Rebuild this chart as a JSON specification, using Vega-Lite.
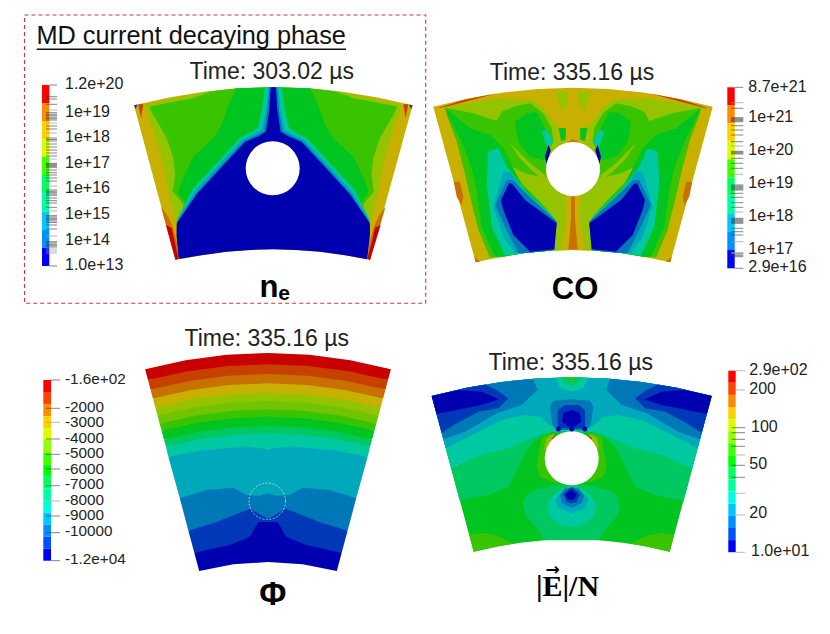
{
"$schema":"https://vega.github.io/schema/vega-lite/v6.json",
"description":"Four plasma field contour panels with colour bars",
"width":830,"height":634,"padding":0,
"autosize":{"type":"fit","contains":"padding"},
"background":"white",
"config":{"view":{"stroke":null}},
"projection":{"type":"identity","scale":1,"translate":[0,0]},
"layer":[
{"data":{"values":[
{"type":"Feature","properties":{"band":"d10"},"geometry":{"type":"Polygon","coordinates":[[[134,105.3],[169,97.4],[204,91.7],[238,88.4],[273.3,87.3],[308.6,88.4],[342.6,91.7],[377.6,97.4],[412.6,105.3],[370,260],[345,255.2],[320,251.8],[296,249.9],[273.3,249.3],[250.6,249.9],[226.6,251.8],[201.6,255.2],[175.5,260],[134,105.3]]]}},
{"type":"Feature","properties":{"band":"d9"},"geometry":{"type":"Polygon","coordinates":[[[220,90],[238,88.4],[273.3,87.3],[308.6,88.4],[326.6,90],[343.6,92.5],[368.6,97.5],[401.6,105],[396.6,121.7],[388.3,145],[381.6,171.7],[377.3,196.7],[374.9,203.3],[371.6,218.3],[369.9,225],[176.7,225],[175,218.3],[171.7,203.3],[169.3,196.7],[165,171.7],[158.3,145],[150,121.7],[145,105],[178,97.5],[203,92.5],[220,90]]]}},
{"type":"Feature","properties":{"band":"d7"},"geometry":{"type":"Polygon","coordinates":[[[236.7,88.3],[273.3,87.3],[309.9,88.3],[336.6,91.7],[353.3,98.3],[373.3,101.7],[397.3,106.7],[393.3,115],[379.9,138.3],[373.3,158.3],[371.6,175],[373.9,191.7],[366.6,200],[363.3,205],[366.6,218.3],[180,218.3],[183.3,205],[180,200],[172.7,191.7],[175,175],[173.3,158.3],[166.7,138.3],[153.3,115],[149.3,106.7],[173.3,101.7],[193.3,98.3],[210,91.7],[236.7,88.3]]]}},
{"type":"Feature","properties":{"band":"d6"},"geometry":{"type":"Polygon","coordinates":[[[236.7,88.3],[273.3,87.3],[309.9,88.3],[318.3,105],[324.9,125],[333.3,138.3],[353.3,156.7],[366.6,185],[368.3,193.3],[361.6,201.7],[361.6,208.3],[368.3,221.7],[178.3,221.7],[185,208.3],[185,201.7],[178.3,193.3],[180,185],[193.3,156.7],[213.3,138.3],[221.7,125],[228.3,105],[236.7,88.3]]]}},
{"type":"Feature","properties":{"band":"d4"},"geometry":{"type":"Polygon","coordinates":[[[265,87.6],[262,110],[258,127],[253,131.5],[240.5,137.5],[217.5,162.3],[192.5,189.5],[177.3,219],[369.3,219],[354.1,189.5],[329.1,162.3],[306.1,137.5],[293.6,131.5],[288.6,127],[284.6,110],[281.6,87.6],[265,87.6]]]}},
{"type":"Feature","properties":{"band":"d3"},"geometry":{"type":"Polygon","coordinates":[[[268.3,87.4],[266,110],[261.7,129.5],[255,133.5],[242.5,139.5],[219.5,164.3],[194.5,191.5],[177,220.5],[369.6,220.5],[352.1,191.5],[327.1,164.3],[304.1,139.5],[291.6,133.5],[284.9,129.5],[280.6,110],[278.3,87.4],[268.3,87.4]]]}},
{"type":"Feature","properties":{"band":"d2"},"geometry":{"type":"Polygon","coordinates":[[[269.5,87.3],[267.6,110],[264,131],[257,135],[244,141],[221,165.7],[196,193],[177,222],[369.6,222],[350.6,193],[325.6,165.7],[302.6,141],[289.6,135],[282.6,131],[279,110],[277.1,87.3],[269.5,87.3]]]}},
{"type":"Feature","properties":{"band":"d0"},"geometry":{"type":"Polygon","coordinates":[[[270.7,87.3],[269.3,110],[266,131.7],[258,136.5],[245,142],[222,166.7],[197,194],[176.7,223.3],[176.5,235],[178.5,259],[201.6,255.2],[226.6,251.8],[250.6,249.9],[273.3,249.3],[296,249.9],[320,251.8],[345,255.2],[367.3,259.2],[369.9,235],[369.9,223.3],[349.6,194],[324.6,166.7],[301.6,142],[288.6,136.5],[280.6,131.7],[277.3,110],[275.9,87.3],[270.7,87.3]]]}},
{"type":"Feature","properties":{"band":"d11"},"geometry":{"type":"Polygon","coordinates":[[[161,206.7],[168.3,216.7],[173,228],[176.7,241.7],[178.5,258.5],[175.5,260],[161,206.7]]]}},
{"type":"Feature","properties":{"band":"d11"},"geometry":{"type":"Polygon","coordinates":[[[385.6,206.7],[378.3,216.7],[373.6,228],[369.9,241.7],[367.3,258.5],[370,260],[385.6,206.7]]]}},
{"type":"Feature","properties":{"band":"d13"},"geometry":{"type":"Polygon","coordinates":[[[166,225],[171.7,228],[175,243.3],[178.5,258.5],[175.5,260],[166,225]]]}},
{"type":"Feature","properties":{"band":"d13"},"geometry":{"type":"Polygon","coordinates":[[[380.6,225],[374.9,228],[371.6,243.3],[367.3,258.5],[370,260],[380.6,225]]]}},
{"type":"Feature","properties":{"band":"d12"},"geometry":{"type":"Polygon","coordinates":[[[138.3,104.3],[143.3,104.3],[141,118.3],[138.3,104.3]]]}},
{"type":"Feature","properties":{"band":"d12"},"geometry":{"type":"Polygon","coordinates":[[[408.3,104.3],[403.3,104.3],[405.6,118.3],[408.3,104.3]]]}},
{"type":"Feature","properties":{"band":"d1"},"geometry":{"type":"Polygon","coordinates":[[[134,105.3],[137.5,104.5],[135.5,109.3],[134,105.3]]]}},
{"type":"Feature","properties":{"band":"d1"},"geometry":{"type":"Polygon","coordinates":[[[412.6,105.3],[409.1,104.5],[411.1,109.3],[412.6,105.3]]]}},

{"type":"Feature","properties":{"band":"d10"},"geometry":{"type":"Polygon","coordinates":[[[433.3,106.7],[468,98.4],[503,92.5],[538,88.9],[573,87.7],[608,88.9],[643,92.5],[678,98.4],[712.7,106.7],[670.3,262.3],[645,256.9],[621,253],[597,250.7],[573,250],[549,250.7],[525,253],[501,256.9],[475.7,262.3],[433.3,106.7]]]}},
{"type":"Feature","properties":{"band":"d9"},"geometry":{"type":"Polygon","coordinates":[[[556.7,140],[558.3,126.7],[553.3,121.7],[543.3,108.3],[533.3,100],[500,98.3],[445,107.3],[453.3,131.7],[461.7,155],[468.3,181.7],[475,205],[481.7,232],[488.3,258.3],[501,256.9],[525,253],[549,250.7],[573,250],[597,250.7],[621,253],[645,256.9],[657.7,258.3],[664.3,232],[671,205],[677.7,181.7],[684.3,155],[692.7,131.7],[701,107.3],[646,98.3],[612.7,100],[602.7,108.3],[592.7,121.7],[587.7,126.7],[589.3,140],[573,145],[556.7,140]]]}},
{"type":"Feature","properties":{"band":"d9"},"geometry":{"type":"Polygon","coordinates":[[[555,91.7],[568.3,91.7],[566.7,105],[561.7,111.7],[558.3,101.7],[555,91.7]]]}},
{"type":"Feature","properties":{"band":"d9"},"geometry":{"type":"Polygon","coordinates":[[[591,91.7],[577.7,91.7],[579.3,105],[584.3,111.7],[587.7,101.7],[591,91.7]]]}},
{"type":"Feature","properties":{"band":"d6"},"geometry":{"type":"Polygon","coordinates":[[[558.5,128],[566,128],[565.5,140],[561,141],[558.5,128]]]}},
{"type":"Feature","properties":{"band":"d6"},"geometry":{"type":"Polygon","coordinates":[[[587.5,128],[580,128],[580.5,140],[585,141],[587.5,128]]]}},
{"type":"Feature","properties":{"band":"d7"},"geometry":{"type":"Polygon","coordinates":[[[445,107.7],[473.3,113.3],[496.7,121],[501.7,111.7],[516.7,105.7],[530,103.3],[543.3,113.3],[551.7,128.3],[553.3,141.7],[545.7,156.7],[546.3,178.3],[525,173.3],[511.7,166.7],[521.7,183.3],[541.7,203.3],[556.7,221.7],[553.3,250],[549,250.7],[525,253],[501,256.9],[490,257.3],[478.3,230],[471,200],[464,170],[456.7,141.7],[446.7,115],[445,107.7]]]}},
{"type":"Feature","properties":{"band":"d7"},"geometry":{"type":"Polygon","coordinates":[[[701,107.7],[672.7,113.3],[649.3,121],[644.3,111.7],[629.3,105.7],[616,103.3],[602.7,113.3],[594.3,128.3],[592.7,141.7],[600.3,156.7],[599.7,178.3],[621,173.3],[634.3,166.7],[624.3,183.3],[604.3,203.3],[589.3,221.7],[592.7,250],[597,250.7],[621,253],[645,256.9],[656,257.3],[667.7,230],[675,200],[682,170],[689.3,141.7],[699.3,115],[701,107.7]]]}},
{"type":"Feature","properties":{"band":"d6"},"geometry":{"type":"Polygon","coordinates":[[[445,108.3],[470,128.3],[490,135],[503.3,148.3],[511.7,165],[521.7,185],[551.7,215],[556.7,223.3],[553.3,250],[549,250.7],[525,253],[501,256.9],[495,256],[481.7,226.7],[476.7,190],[471.7,168.3],[461.7,141.7],[445,108.3]]]}},
{"type":"Feature","properties":{"band":"d6"},"geometry":{"type":"Polygon","coordinates":[[[701,108.3],[676,128.3],[656,135],[642.7,148.3],[634.3,165],[624.3,185],[594.3,215],[589.3,223.3],[592.7,250],[597,250.7],[621,253],[645,256.9],[651,256],[664.3,226.7],[669.3,190],[674.3,168.3],[684.3,141.7],[701,108.3]]]}},
{"type":"Feature","properties":{"band":"d6"},"geometry":{"type":"Polygon","coordinates":[[[515,121.7],[526.7,113.3],[536.7,111.7],[545,128.3],[546.7,151.7],[543.3,160],[530,156.7],[518.3,141.7],[515,121.7]]]}},
{"type":"Feature","properties":{"band":"d6"},"geometry":{"type":"Polygon","coordinates":[[[631,121.7],[619.3,113.3],[609.3,111.7],[601,128.3],[599.3,151.7],[602.7,160],[616,156.7],[627.7,141.7],[631,121.7]]]}},
{"type":"Feature","properties":{"band":"d9"},"geometry":{"type":"Polygon","coordinates":[[[510,143.3],[520,158.3],[533.3,171.7],[546.7,181.7],[545,175],[530,163.3],[510,143.3]]]}},
{"type":"Feature","properties":{"band":"d9"},"geometry":{"type":"Polygon","coordinates":[[[636,143.3],[626,158.3],[612.7,171.7],[599.3,181.7],[601,175],[616,163.3],[636,143.3]]]}},
{"type":"Feature","properties":{"band":"d4"},"geometry":{"type":"Polygon","coordinates":[[[488.3,151.7],[498.3,148.3],[506.7,166.7],[525,190],[553.3,216.7],[555.7,223.3],[553.3,250],[549,250.7],[525,253],[505,255.5],[491.7,226.7],[486.7,183.3],[488.3,151.7]]]}},
{"type":"Feature","properties":{"band":"d4"},"geometry":{"type":"Polygon","coordinates":[[[657.7,151.7],[647.7,148.3],[639.3,166.7],[621,190],[592.7,216.7],[590.3,223.3],[592.7,250],[597,250.7],[621,253],[641,255.5],[654.3,226.7],[659.3,183.3],[657.7,151.7]]]}},
{"type":"Feature","properties":{"band":"d3"},"geometry":{"type":"Polygon","coordinates":[[[493.3,206.7],[503.3,171.7],[510,171.7],[525,193.3],[555,220],[554.3,250],[549,250.7],[525,253],[515,253.5],[503.3,236.7],[493.3,206.7]]]}},
{"type":"Feature","properties":{"band":"d3"},"geometry":{"type":"Polygon","coordinates":[[[652.7,206.7],[642.7,171.7],[636,171.7],[621,193.3],[591,220],[591.7,250],[597,250.7],[621,253],[631,253.5],[642.7,236.7],[652.7,206.7]]]}},
{"type":"Feature","properties":{"band":"d2"},"geometry":{"type":"Polygon","coordinates":[[[495,205],[506.7,180],[512.3,180],[556.7,221.7],[554.3,250],[549,250.7],[525,253],[518.3,253],[505,226.7],[495,205]]]}},
{"type":"Feature","properties":{"band":"d2"},"geometry":{"type":"Polygon","coordinates":[[[651,205],[639.3,180],[633.7,180],[589.3,221.7],[591.7,250],[597,250.7],[621,253],[627.7,253],[641,226.7],[651,205]]]}},
{"type":"Feature","properties":{"band":"d0"},"geometry":{"type":"Polygon","coordinates":[[[501,200],[509,183.3],[512.3,184],[525,200],[556.7,223.3],[554.3,249.3],[530,251.8],[513.3,235],[503.3,210],[501,200]]]}},
{"type":"Feature","properties":{"band":"d0"},"geometry":{"type":"Polygon","coordinates":[[[645,200],[637,183.3],[633.7,184],[621,200],[589.3,223.3],[591.7,249.3],[616,251.8],[632.7,235],[642.7,210],[645,200]]]}},
{"type":"Feature","properties":{"band":"d4"},"geometry":{"type":"Polygon","coordinates":[[[541.7,131.7],[546.7,130],[553.3,141.7],[548.3,148.3],[545,141.7],[541.7,131.7]]]}},
{"type":"Feature","properties":{"band":"d4"},"geometry":{"type":"Polygon","coordinates":[[[604.3,131.7],[599.3,130],[592.7,141.7],[597.7,148.3],[601,141.7],[604.3,131.7]]]}},
{"type":"Feature","properties":{"band":"d0"},"geometry":{"type":"Polygon","coordinates":[[[545,156.7],[548.3,145],[550.7,150],[546.7,165],[545,156.7]]]}},
{"type":"Feature","properties":{"band":"d0"},"geometry":{"type":"Polygon","coordinates":[[[601,156.7],[597.7,145],[595.3,150],[599.3,165],[601,156.7]]]}},
{"type":"Feature","properties":{"band":"d10"},"geometry":{"type":"Polygon","coordinates":[[[565,195],[581,195],[579.7,216.7],[585,250],[561,250],[566.3,216.7],[565,195]]]}},
{"type":"Feature","properties":{"band":"d11"},"geometry":{"type":"Polygon","coordinates":[[[571,196.7],[575,196.7],[575,220],[577.7,249.5],[568.3,249.5],[571,220],[571,196.7]]]}},
{"type":"Feature","properties":{"band":"d11"},"geometry":{"type":"Polygon","coordinates":[[[453.8,181.7],[460,181.7],[463.3,196.7],[461.7,205],[456.7,196.7],[453.8,181.7]]]}},
{"type":"Feature","properties":{"band":"d11"},"geometry":{"type":"Polygon","coordinates":[[[692.2,181.7],[686,181.7],[682.7,196.7],[684.3,205],[689.3,196.7],[692.2,181.7]]]}},
{"type":"Feature","properties":{"band":"d12"},"geometry":{"type":"Polygon","coordinates":[[[439.3,107.7],[463.3,100],[496.7,93.3],[463.3,102.3],[440,108.3],[439.3,107.7]]]}},
{"type":"Feature","properties":{"band":"d12"},"geometry":{"type":"Polygon","coordinates":[[[706.7,107.7],[682.7,100],[649.3,93.3],[682.7,102.3],[706,108.3],[706.7,107.7]]]}},
{"type":"Feature","properties":{"band":"d11"},"geometry":{"type":"Polygon","coordinates":[[[474.3,256.7],[480,261.7],[475.7,262.3],[474.3,256.7]]]}},
{"type":"Feature","properties":{"band":"d11"},"geometry":{"type":"Polygon","coordinates":[[[671.7,256.7],[666,261.7],[670.3,262.3],[671.7,256.7]]]}},
{"type":"Feature","properties":{"band":"d11"},"geometry":{"type":"Polygon","coordinates":[[[566,142.5],[573,139.5],[580,142.5],[566,142.5]]]}},

{"type":"Feature","properties":{"band":"d13"},"geometry":{"type":"Polygon","coordinates":[[[145.1,369.2],[185.5,360.2],[226.6,354.8],[268,353],[309.4,354.8],[350.5,360.2],[390.9,369.2],[388,380.1],[268,365.3],[148,380.1],[145.1,369.2]]]}},
{"type":"Feature","properties":{"band":"d12"},"geometry":{"type":"Polygon","coordinates":[[[148,380.1],[187.5,371.3],[227.6,366.1],[268,364.3],[308.4,366.1],[348.5,371.3],[388,380.1],[385.5,389.5],[268,375],[150.5,389.5],[148,380.1]]]}},
{"type":"Feature","properties":{"band":"d11"},"geometry":{"type":"Polygon","coordinates":[[[150.5,389.5],[189.2,380.9],[228.4,375.7],[268,374],[307.6,375.7],[346.8,380.9],[385.5,389.5],[383.1,398.5],[268,384.3],[152.9,398.5],[150.5,389.5]]]}},
{"type":"Feature","properties":{"band":"d10"},"geometry":{"type":"Polygon","coordinates":[[[152.9,398.5],[190.8,390.1],[229.2,385],[268,383.3],[306.8,385],[345.2,390.1],[383.1,398.5],[380.7,407.5],[268,393.7],[155.3,407.5],[152.9,398.5]]]}},
{"type":"Feature","properties":{"band":"d9"},"geometry":{"type":"Polygon","coordinates":[[[155.3,407.5],[192.4,399.3],[230,394.4],[268,392.7],[306,394.4],[343.6,399.3],[380.7,407.5],[378.5,415.6],[268,402],[157.5,415.6],[155.3,407.5]]]}},
{"type":"Feature","properties":{"band":"d8"},"geometry":{"type":"Polygon","coordinates":[[[157.5,415.6],[193.9,407.5],[230.8,402.6],[268,401],[305.2,402.6],[342.1,407.5],[378.5,415.6],[376.4,423.6],[268,410.3],[159.6,423.6],[157.5,415.6]]]}},
{"type":"Feature","properties":{"band":"d7"},"geometry":{"type":"Polygon","coordinates":[[[159.6,423.6],[195.3,415.7],[231.5,410.9],[268,409.3],[304.5,410.9],[340.7,415.7],[376.4,423.6],[374.4,430.7],[268,417.7],[161.6,430.7],[159.6,423.6]]]}},
{"type":"Feature","properties":{"band":"d6"},"geometry":{"type":"Polygon","coordinates":[[[161.6,430.7],[196.6,422.9],[232.1,418.3],[268,416.7],[303.9,418.3],[339.4,422.9],[374.4,430.7],[372,439.7],[268,427],[164,439.7],[161.6,430.7]]]}},
{"type":"Feature","properties":{"band":"d5"},"geometry":{"type":"Polygon","coordinates":[[[164,439.7],[198.2,432.1],[233,427.5],[268,426],[303,427.5],[337.8,432.1],[372,439.7],[370.1,446.8],[268,434.3],[165.9,446.8],[164,439.7]]]}},
{"type":"Feature","properties":{"band":"d4"},"geometry":{"type":"Polygon","coordinates":[[[165.9,446.8],[199.5,439.3],[233.6,434.8],[268,433.3],[302.4,434.8],[336.5,439.3],[370.1,446.8],[367.7,456.7],[268,452],[168.3,456.7],[165.9,446.8]]]}},
{"type":"Feature","properties":{"band":"d3"},"geometry":{"type":"Polygon","coordinates":[[[168.3,456.7],[203.3,450],[243,446.7],[263,448.3],[268,450],[273,448.3],[293,446.7],[332.7,450],[367.7,456.7],[356.2,498.3],[268,505],[179.8,498.3],[168.3,456.7]]]}},
{"type":"Feature","properties":{"band":"d2"},"geometry":{"type":"Polygon","coordinates":[[[179.8,498.3],[206.7,490],[233.3,487.7],[246.7,495],[260,495.7],[268,493.3],[276,495.7],[289.3,495],[302.7,487.7],[329.3,490],[356.2,498.3],[347.6,530.7],[268,535],[188.4,530.7],[179.8,498.3]]]}},
{"type":"Feature","properties":{"band":"d1"},"geometry":{"type":"Polygon","coordinates":[[[188.4,530.7],[216.7,522],[250,508.7],[268,519],[286,508.7],[319.3,522],[347.6,530.7],[341.7,552.7],[194.3,552.7],[188.4,530.7]]]}},
{"type":"Feature","properties":{"band":"d0"},"geometry":{"type":"Polygon","coordinates":[[[194.3,552.7],[230,545],[250,536.7],[258.3,522],[277.7,522],[286,536.7],[306,545],[341.7,552.7],[336.8,571.1],[302.7,564.3],[268,562],[233.3,564.3],[199.2,571.1],[194.3,552.7]]]}},

{"type":"Feature","properties":{"band":"d6"},"geometry":{"type":"Polygon","coordinates":[[[431.7,396],[466.7,387.8],[501.7,382],[536.7,378.5],[571.7,377.3],[606.7,378.5],[641.7,382],[676.7,387.8],[711.7,396],[669.7,551.7],[645.2,546.3],[620.7,542.4],[596.2,540.1],[571.7,539.3],[547.2,540.1],[522.7,542.4],[498.2,546.3],[473.7,551.7],[431.7,396]]]}},
{"type":"Feature","properties":{"band":"d5"},"geometry":{"type":"Polygon","coordinates":[[[431.7,396],[466.7,387.8],[501.7,382],[536.7,378.5],[571.7,377.3],[606.7,378.5],[641.7,382],[676.7,387.8],[711.7,396],[683.7,500.7],[655.1,495],[635.1,486.7],[626.7,470],[615.1,446.7],[598.4,431.7],[571.7,431],[545,431.7],[528.3,446.7],[516.7,470],[508.3,486.7],[488.3,495],[459.7,500.7],[431.7,396]]]}},
{"type":"Feature","properties":{"band":"d4"},"geometry":{"type":"Polygon","coordinates":[[[431.7,396],[466.7,387.8],[501.7,382],[536.7,378.5],[571.7,377.3],[606.7,378.5],[641.7,382],[676.7,387.8],[711.7,396],[692.2,468.3],[661.7,455],[635.1,448.3],[608.4,436.7],[590.1,431.7],[571.7,431],[553.3,431.7],[535,436.7],[508.3,448.3],[481.7,455],[451.2,468.3],[431.7,396]]]}},
{"type":"Feature","properties":{"band":"d3"},"geometry":{"type":"Polygon","coordinates":[[[431.7,396],[466.7,387.8],[501.7,382],[536.7,378.5],[571.7,377.3],[606.7,378.5],[641.7,382],[676.7,387.8],[711.7,396],[697.6,448.3],[675.1,436.7],[641.7,420],[618.4,415],[603.4,416.7],[590.1,428.3],[571.7,430],[553.3,428.3],[540,416.7],[525,415],[501.7,420],[468.3,436.7],[445.8,448.3],[431.7,396]]]}},
{"type":"Feature","properties":{"band":"d2"},"geometry":{"type":"Polygon","coordinates":[[[431.7,396],[466.7,387.8],[501.7,382],[533.3,378.8],[537.3,390],[521.7,405],[496.7,413.3],[465,431.7],[443.4,439.3],[431.7,396]]]}},
{"type":"Feature","properties":{"band":"d2"},"geometry":{"type":"Polygon","coordinates":[[[711.7,396],[676.7,387.8],[641.7,382],[610.1,378.8],[606.1,390],[621.7,405],[646.7,413.3],[678.4,431.7],[700,439.3],[711.7,396]]]}},
{"type":"Feature","properties":{"band":"d1"},"geometry":{"type":"Polygon","coordinates":[[[431.7,396],[466.7,387.8],[485,384.5],[496.7,390],[508.3,398.3],[498.3,408.3],[478.3,411.7],[456.7,423.3],[441.6,432.7],[431.7,396]]]}},
{"type":"Feature","properties":{"band":"d1"},"geometry":{"type":"Polygon","coordinates":[[[711.7,396],[676.7,387.8],[658.4,384.5],[646.7,390],[635.1,398.3],[645.1,408.3],[665.1,411.7],[686.7,423.3],[701.8,432.7],[711.7,396]]]}},
{"type":"Feature","properties":{"band":"d0"},"geometry":{"type":"Polygon","coordinates":[[[431.7,396],[458.3,390],[481.7,391.7],[499,399.3],[481.7,405],[456.7,410],[436.6,414],[431.7,396]]]}},
{"type":"Feature","properties":{"band":"d0"},"geometry":{"type":"Polygon","coordinates":[[[711.7,396],[685.1,390],[661.7,391.7],[644.4,399.3],[661.7,405],[686.7,410],[706.8,414],[711.7,396]]]}},
{"type":"Feature","properties":{"band":"d4"},"geometry":{"type":"Polygon","coordinates":[[[555.7,378.3],[560,388.3],[571.7,391.7],[583.4,388.3],[587.7,378.3],[571.7,377.3],[555.7,378.3]]]}},
{"type":"Feature","properties":{"band":"d5"},"geometry":{"type":"Polygon","coordinates":[[[561,377.7],[565,383.3],[571.7,385.7],[578.4,383.3],[582.4,377.7],[571.7,377.3],[561,377.7]]]}},
{"type":"Feature","properties":{"band":"d7"},"geometry":{"type":"Polygon","coordinates":[[[566.7,377.5],[571.7,380.7],[576.7,377.5],[566.7,377.5]]]}},
{"type":"Feature","properties":{"band":"d2"},"geometry":{"type":"Polygon","coordinates":[[[550,406.7],[553.3,400.7],[571.7,399.3],[590,400.7],[593.3,406.7],[591,425],[585,430],[558.3,430],[552.3,425],[550,406.7]]]}},
{"type":"Feature","properties":{"band":"d1"},"geometry":{"type":"Polygon","coordinates":[[[557.7,428.3],[557.7,410],[565,405],[578.4,405],[585,410],[585,428.3],[557.7,428.3]]]}},
{"type":"Feature","properties":{"band":"d0"},"geometry":{"type":"Polygon","coordinates":[[[562.3,421.7],[563.3,413.3],[571.7,410],[580,413.3],[581,421.7],[575,426.7],[568.3,426.7],[562.3,421.7]]]}},
{"type":"Feature","properties":{"band":"d7"},"geometry":{"type":"Polygon","coordinates":[[[550,433.3],[541.7,436.7],[540,446.7],[536.7,466.7],[540,476.7],[551.7,481.7],[565,484],[571.7,458],[550,433.3]]]}},
{"type":"Feature","properties":{"band":"d7"},"geometry":{"type":"Polygon","coordinates":[[[593.4,433.3],[601.7,436.7],[603.4,446.7],[606.7,466.7],[603.4,476.7],[591.7,481.7],[578.4,484],[571.7,458],[593.4,433.3]]]}},
{"type":"Feature","properties":{"band":"d9"},"geometry":{"type":"Polygon","coordinates":[[[554.3,433.3],[546.7,438.3],[544.3,450],[552,445],[554.3,433.3]]]}},
{"type":"Feature","properties":{"band":"d9"},"geometry":{"type":"Polygon","coordinates":[[[589.1,433.3],[596.7,438.3],[599.1,450],[591.4,445],[589.1,433.3]]]}},
{"type":"Feature","properties":{"band":"d12"},"geometry":{"type":"Polygon","coordinates":[[[556.7,434.3],[551,438.3],[553.3,441],[556.7,434.3]]]}},
{"type":"Feature","properties":{"band":"d12"},"geometry":{"type":"Polygon","coordinates":[[[586.7,434.3],[592.4,438.3],[590.1,441],[586.7,434.3]]]}},
{"type":"Feature","properties":{"band":"d5"},"geometry":{"type":"Polygon","coordinates":[[[523,505],[526,496],[534,490],[558,485],[585,485],[609,490],[617,496],[620,505],[617,516],[606,529],[598,540.2],[545,540.2],[537,529],[526,516],[523,505]]]}},
{"type":"Feature","properties":{"band":"d4"},"geometry":{"type":"Polygon","coordinates":[[[546.7,503.3],[553.3,495],[563.3,488.3],[580,488.3],[590,495],[596.7,505],[593.3,516.7],[581.7,525],[571.7,526.7],[560,525],[550,516.7],[546.7,503.3]]]}},
{"type":"Feature","properties":{"band":"d3"},"geometry":{"type":"Polygon","coordinates":[[[555,500],[561.7,491.7],[581.7,491.7],[588.3,500],[585,508.3],[571.7,513.3],[558.3,508.3],[555,500]]]}},
{"type":"Feature","properties":{"band":"d2"},"geometry":{"type":"Polygon","coordinates":[[[560,495],[565,488.3],[578.3,488.3],[584.3,496],[581.7,503.3],[571.7,507.7],[561.7,503.3],[560,495]]]}},
{"type":"Feature","properties":{"band":"d1"},"geometry":{"type":"Polygon","coordinates":[[[563.3,494.3],[571.7,486.7],[580,494.3],[576.7,501.7],[571.7,503.3],[566.7,501.7],[563.3,494.3]]]}},
{"type":"Feature","properties":{"band":"d0"},"geometry":{"type":"Polygon","coordinates":[[[565.7,494.3],[571,489],[576.7,494.3],[574.3,499],[571,500],[567.7,499],[565.7,494.3]]]}},
{"type":"Feature","properties":{"band":"d7"},"geometry":{"type":"Polygon","coordinates":[[[469.2,535],[481.7,532.7],[495,535],[513.3,543.6],[498.2,546.3],[473.7,551.7],[469.2,535]]]}},
{"type":"Feature","properties":{"band":"d7"},"geometry":{"type":"Polygon","coordinates":[[[674.2,535],[661.7,532.7],[648.4,535],[630.1,543.6],[645.2,546.3],[669.7,551.7],[674.2,535]]]}},

{"type":"Feature","properties":{"band":"b14"},"geometry":{"type":"Polygon","coordinates":[[[42,85],[49.3,85],[49.3,103],[42,103],[42,85]]]}},
{"type":"Feature","properties":{"band":"b12"},"geometry":{"type":"Polygon","coordinates":[[[42,103],[49.3,103],[49.3,121.7],[42,121.7],[42,103]]]}},
{"type":"Feature","properties":{"band":"b11"},"geometry":{"type":"Polygon","coordinates":[[[42,121.7],[49.3,121.7],[49.3,139],[42,139],[42,121.7]]]}},
{"type":"Feature","properties":{"band":"b10"},"geometry":{"type":"Polygon","coordinates":[[[42,139],[49.3,139],[49.3,156.7],[42,156.7],[42,139]]]}},
{"type":"Feature","properties":{"band":"b8"},"geometry":{"type":"Polygon","coordinates":[[[42,156.7],[49.3,156.7],[49.3,175],[42,175],[42,156.7]]]}},
{"type":"Feature","properties":{"band":"b6"},"geometry":{"type":"Polygon","coordinates":[[[42,175],[49.3,175],[49.3,193],[42,193],[42,175]]]}},
{"type":"Feature","properties":{"band":"b5"},"geometry":{"type":"Polygon","coordinates":[[[42,193],[49.3,193],[49.3,211.7],[42,211.7],[42,193]]]}},
{"type":"Feature","properties":{"band":"b3"},"geometry":{"type":"Polygon","coordinates":[[[42,211.7],[49.3,211.7],[49.3,230],[42,230],[42,211.7]]]}},
{"type":"Feature","properties":{"band":"b2"},"geometry":{"type":"Polygon","coordinates":[[[42,230],[49.3,230],[49.3,247.7],[42,247.7],[42,230]]]}},
{"type":"Feature","properties":{"band":"b0"},"geometry":{"type":"Polygon","coordinates":[[[42,247.7],[49.3,247.7],[49.3,266],[42,266],[42,247.7]]]}},

{"type":"Feature","properties":{"band":"b14"},"geometry":{"type":"Polygon","coordinates":[[[727.3,87.3],[734.7,87.3],[734.7,105],[727.3,105],[727.3,87.3]]]}},
{"type":"Feature","properties":{"band":"b12"},"geometry":{"type":"Polygon","coordinates":[[[727.3,105],[734.7,105],[734.7,123.3],[727.3,123.3],[727.3,105]]]}},
{"type":"Feature","properties":{"band":"b11"},"geometry":{"type":"Polygon","coordinates":[[[727.3,123.3],[734.7,123.3],[734.7,141.7],[727.3,141.7],[727.3,123.3]]]}},
{"type":"Feature","properties":{"band":"b10"},"geometry":{"type":"Polygon","coordinates":[[[727.3,141.7],[734.7,141.7],[734.7,159.3],[727.3,159.3],[727.3,141.7]]]}},
{"type":"Feature","properties":{"band":"b8"},"geometry":{"type":"Polygon","coordinates":[[[727.3,159.3],[734.7,159.3],[734.7,177.3],[727.3,177.3],[727.3,159.3]]]}},
{"type":"Feature","properties":{"band":"b6"},"geometry":{"type":"Polygon","coordinates":[[[727.3,177.3],[734.7,177.3],[734.7,195.7],[727.3,195.7],[727.3,177.3]]]}},
{"type":"Feature","properties":{"band":"b5"},"geometry":{"type":"Polygon","coordinates":[[[727.3,195.7],[734.7,195.7],[734.7,214],[727.3,214],[727.3,195.7]]]}},
{"type":"Feature","properties":{"band":"b3"},"geometry":{"type":"Polygon","coordinates":[[[727.3,214],[734.7,214],[734.7,232],[727.3,232],[727.3,214]]]}},
{"type":"Feature","properties":{"band":"b2"},"geometry":{"type":"Polygon","coordinates":[[[727.3,232],[734.7,232],[734.7,250],[727.3,250],[727.3,232]]]}},
{"type":"Feature","properties":{"band":"b0"},"geometry":{"type":"Polygon","coordinates":[[[727.3,250],[734.7,250],[734.7,268.3],[727.3,268.3],[727.3,250]]]}},

{"type":"Feature","properties":{"band":"b14"},"geometry":{"type":"Polygon","coordinates":[[[43.3,380],[51,380],[51,392],[43.3,392],[43.3,380]]]}},
{"type":"Feature","properties":{"band":"b13"},"geometry":{"type":"Polygon","coordinates":[[[43.3,392],[51,392],[51,404.1],[43.3,404.1],[43.3,392]]]}},
{"type":"Feature","properties":{"band":"b12"},"geometry":{"type":"Polygon","coordinates":[[[43.3,404.1],[51,404.1],[51,416.1],[43.3,416.1],[43.3,404.1]]]}},
{"type":"Feature","properties":{"band":"b11"},"geometry":{"type":"Polygon","coordinates":[[[43.3,416.1],[51,416.1],[51,428.2],[43.3,428.2],[43.3,416.1]]]}},
{"type":"Feature","properties":{"band":"b10"},"geometry":{"type":"Polygon","coordinates":[[[43.3,428.2],[51,428.2],[51,440.2],[43.3,440.2],[43.3,428.2]]]}},
{"type":"Feature","properties":{"band":"b9"},"geometry":{"type":"Polygon","coordinates":[[[43.3,440.2],[51,440.2],[51,452.3],[43.3,452.3],[43.3,440.2]]]}},
{"type":"Feature","properties":{"band":"b8"},"geometry":{"type":"Polygon","coordinates":[[[43.3,452.3],[51,452.3],[51,464.3],[43.3,464.3],[43.3,452.3]]]}},
{"type":"Feature","properties":{"band":"b7"},"geometry":{"type":"Polygon","coordinates":[[[43.3,464.3],[51,464.3],[51,476.4],[43.3,476.4],[43.3,464.3]]]}},
{"type":"Feature","properties":{"band":"b6"},"geometry":{"type":"Polygon","coordinates":[[[43.3,476.4],[51,476.4],[51,488.4],[43.3,488.4],[43.3,476.4]]]}},
{"type":"Feature","properties":{"band":"b5"},"geometry":{"type":"Polygon","coordinates":[[[43.3,488.4],[51,488.4],[51,500.5],[43.3,500.5],[43.3,488.4]]]}},
{"type":"Feature","properties":{"band":"b4"},"geometry":{"type":"Polygon","coordinates":[[[43.3,500.5],[51,500.5],[51,512.5],[43.3,512.5],[43.3,500.5]]]}},
{"type":"Feature","properties":{"band":"b3"},"geometry":{"type":"Polygon","coordinates":[[[43.3,512.5],[51,512.5],[51,524.6],[43.3,524.6],[43.3,512.5]]]}},
{"type":"Feature","properties":{"band":"b2"},"geometry":{"type":"Polygon","coordinates":[[[43.3,524.6],[51,524.6],[51,536.6],[43.3,536.6],[43.3,524.6]]]}},
{"type":"Feature","properties":{"band":"b1"},"geometry":{"type":"Polygon","coordinates":[[[43.3,536.6],[51,536.6],[51,548.7],[43.3,548.7],[43.3,536.6]]]}},
{"type":"Feature","properties":{"band":"b0"},"geometry":{"type":"Polygon","coordinates":[[[43.3,548.7],[51,548.7],[51,560.7],[43.3,560.7],[43.3,548.7]]]}},

{"type":"Feature","properties":{"band":"b14"},"geometry":{"type":"Polygon","coordinates":[[[728.3,370.7],[735.7,370.7],[735.7,382.8],[728.3,382.8],[728.3,370.7]]]}},
{"type":"Feature","properties":{"band":"b13"},"geometry":{"type":"Polygon","coordinates":[[[728.3,382.8],[735.7,382.8],[735.7,394.9],[728.3,394.9],[728.3,382.8]]]}},
{"type":"Feature","properties":{"band":"b12"},"geometry":{"type":"Polygon","coordinates":[[[728.3,394.9],[735.7,394.9],[735.7,407],[728.3,407],[728.3,394.9]]]}},
{"type":"Feature","properties":{"band":"b11"},"geometry":{"type":"Polygon","coordinates":[[[728.3,407],[735.7,407],[735.7,419.1],[728.3,419.1],[728.3,407]]]}},
{"type":"Feature","properties":{"band":"b10"},"geometry":{"type":"Polygon","coordinates":[[[728.3,419.1],[735.7,419.1],[735.7,431.2],[728.3,431.2],[728.3,419.1]]]}},
{"type":"Feature","properties":{"band":"b9"},"geometry":{"type":"Polygon","coordinates":[[[728.3,431.2],[735.7,431.2],[735.7,443.3],[728.3,443.3],[728.3,431.2]]]}},
{"type":"Feature","properties":{"band":"b8"},"geometry":{"type":"Polygon","coordinates":[[[728.3,443.3],[735.7,443.3],[735.7,455.4],[728.3,455.4],[728.3,443.3]]]}},
{"type":"Feature","properties":{"band":"b7"},"geometry":{"type":"Polygon","coordinates":[[[728.3,455.4],[735.7,455.4],[735.7,467.5],[728.3,467.5],[728.3,455.4]]]}},
{"type":"Feature","properties":{"band":"b6"},"geometry":{"type":"Polygon","coordinates":[[[728.3,467.5],[735.7,467.5],[735.7,479.6],[728.3,479.6],[728.3,467.5]]]}},
{"type":"Feature","properties":{"band":"b5"},"geometry":{"type":"Polygon","coordinates":[[[728.3,479.6],[735.7,479.6],[735.7,491.7],[728.3,491.7],[728.3,479.6]]]}},
{"type":"Feature","properties":{"band":"b4"},"geometry":{"type":"Polygon","coordinates":[[[728.3,491.7],[735.7,491.7],[735.7,503.8],[728.3,503.8],[728.3,491.7]]]}},
{"type":"Feature","properties":{"band":"b3"},"geometry":{"type":"Polygon","coordinates":[[[728.3,503.8],[735.7,503.8],[735.7,515.9],[728.3,515.9],[728.3,503.8]]]}},
{"type":"Feature","properties":{"band":"b2"},"geometry":{"type":"Polygon","coordinates":[[[728.3,515.9],[735.7,515.9],[735.7,528],[728.3,528],[728.3,515.9]]]}},
{"type":"Feature","properties":{"band":"b1"},"geometry":{"type":"Polygon","coordinates":[[[728.3,528],[735.7,528],[735.7,540.1],[728.3,540.1],[728.3,528]]]}},
{"type":"Feature","properties":{"band":"b0"},"geometry":{"type":"Polygon","coordinates":[[[728.3,540.1],[735.7,540.1],[735.7,552.2],[728.3,552.2],[728.3,540.1]]]}}
]},
"mark":{"type":"geoshape"},
"encoding":{"color":{"field":"properties.band","type":"nominal","legend":null,"scale":{
"domain":["d0","d1","d2","d3","d4","d5","d6","d7","d8","d9","d10","d11","d12","d13","b0","b1","b2","b3","b4","b5","b6","b7","b8","b9","b10","b11","b12","b13","b14"],
"range":["#0000b0","#0038b8","#0078b8","#00a8bc","#00c8a0","#00c860","#00c420","#38c400","#70c400","#94c400","#c8b000","#c87000","#c84000","#c80000","#0000ff","#0050ff","#0090ff","#00c8ff","#00ffe0","#00ffa0","#00ff60","#00ff00","#40ff00","#90ff00","#d8ff00","#ffd000","#ff8c00","#ff4400","#ff0000"]}}}},
{"data":{"values":[{"x":272.7,"y":168.3},{"x":573,"y":169},{"x":571.7,"y":458.3}]},
"mark":{"type":"circle","color":"white","opacity":1,"size":2916},
"encoding":{"longitude":{"field":"x","type":"quantitative"},"latitude":{"field":"y","type":"quantitative"}}},
{"data":{"values":[{"x":267.3,"y":501.3}]},
"mark":{"type":"point","filled":false,"stroke":"white","strokeWidth":0.6,"strokeDash":[2,1.5],"opacity":1,"size":1340},
"encoding":{"longitude":{"field":"x","type":"quantitative"},"latitude":{"field":"y","type":"quantitative"}}},
{"data":{"values":[{"x":558.3,"y":429},{"x":571.7,"y":429},{"x":584.8,"y":429}]},
"mark":{"type":"circle","color":"#0000b0","opacity":1,"size":25},
"encoding":{"longitude":{"field":"x","type":"quantitative"},"latitude":{"field":"y","type":"quantitative"}}},
{"data":{"values":[
{"type":"Feature","properties":{"bar":"ne"},"geometry":{"type":"MultiLineString","coordinates":[[[49.3,85],[57,85]],[[46,96.7],[57,96.7]],[[46,99],[57,99]],[[46,104.3],[57,104.3]],[[46,112.7],[57,112.7]],[[46,114.2],[57,114.2]],[[46,115.7],[57,115.7]],[[46,117.2],[57,117.2]],[[46,118.7],[57,118.7]],[[46,120],[57,120]],[[46,126],[57,126]],[[46,129],[57,129]],[[46,138],[57,138]],[[46,139.5],[57,139.5]],[[46,141],[57,141]],[[46,144],[57,144]],[[46,147],[57,147]],[[46,150],[57,150]],[[46,153],[57,153]],[[46,156],[57,156]],[[46,163.3],[57,163.3]],[[46,164.3],[57,164.3]],[[46,165.3],[57,165.3]],[[46,166.3],[57,166.3]],[[46,167.3],[57,167.3]],[[46,170],[57,170]],[[46,172.7],[57,172.7]],[[46,175],[57,175]],[[46,178],[57,178]],[[46,181],[57,181]],[[46,190],[57,190]],[[46,191.3],[57,191.3]],[[46,192.7],[57,192.7]],[[46,194],[57,194]],[[46,195.3],[57,195.3]],[[46,198],[57,198]],[[46,200.7],[57,200.7]],[[46,203],[57,203]],[[46,207.3],[57,207.3]],[[46,215.7],[57,215.7]],[[46,217],[57,217]],[[46,218.3],[57,218.3]],[[46,219.7],[57,219.7]],[[46,221],[57,221]],[[46,222.5],[57,222.5]],[[46,225],[57,225]],[[46,229],[57,229]],[[46,241.7],[57,241.7]],[[46,243],[57,243]],[[46,244.3],[57,244.3]],[[46,245.7],[57,245.7]],[[46,247],[57,247]],[[49.3,266],[57,266]]]}},
{"type":"Feature","properties":{"bar":"co"},"geometry":{"type":"MultiLineString","coordinates":[[[734.7,87.3],[743.3,87.3]],[[731,108.3],[743.3,108.3]],[[731,117.7],[743.3,117.7]],[[731,118.7],[743.3,118.7]],[[731,119.7],[743.3,119.7]],[[731,120.7],[743.3,120.7]],[[731,121.7],[743.3,121.7]],[[731,125.7],[743.3,125.7]],[[731,130],[743.3,130]],[[731,135],[743.3,135]],[[731,141.7],[743.3,141.7]],[[731,151.3],[743.3,151.3]],[[731,152.2],[743.3,152.2]],[[731,153.1],[743.3,153.1]],[[731,154],[743.3,154]],[[731,158.3],[743.3,158.3]],[[731,163.3],[743.3,163.3]],[[731,168.3],[743.3,168.3]],[[731,185],[743.3,185]],[[731,186],[743.3,186]],[[731,187],[743.3,187]],[[731,188],[743.3,188]],[[731,189],[743.3,189]],[[731,190],[743.3,190]],[[731,193.3],[743.3,193.3]],[[731,197.3],[743.3,197.3]],[[731,202.7],[743.3,202.7]],[[731,207.3],[743.3,207.3]],[[731,218.3],[743.3,218.3]],[[731,219.3],[743.3,219.3]],[[731,220.3],[743.3,220.3]],[[731,221.3],[743.3,221.3]],[[731,222.3],[743.3,222.3]],[[731,223.3],[743.3,223.3]],[[731,228.3],[743.3,228.3]],[[731,231.7],[743.3,231.7]],[[731,235],[743.3,235]],[[731,254],[743.3,254]],[[731,255.3],[743.3,255.3]],[[731,256.7],[743.3,256.7]],[[734.7,268.3],[743.3,268.3]]]}},
{"type":"Feature","properties":{"bar":"phi"},"geometry":{"type":"MultiLineString","coordinates":[[[51,380],[60,380]],[[46,408.3],[60,408.3]],[[46,439],[60,439]],[[46,454.3],[60,454.3]],[[46,469],[60,469]],[[46,485.7],[60,485.7]],[[46,516],[60,516]],[[46,532.7],[60,532.7]],[[51,560.7],[60,560.7]]]}},
{"type":"Feature","properties":{"bar":"e"},"geometry":{"type":"MultiLineString","coordinates":[[[731.7,427.7],[745,427.7]],[[731.7,432.7],[745,432.7]],[[731.7,439.3],[745,439.3]],[[731.7,446.3],[745,446.3]],[[731.7,465.3],[745,465.3]],[[731.7,477.3],[745,477.3]]]}}
]},
"mark":{"type":"geoshape","filled":false,"stroke":"#333333","strokeWidth":0.6},"encoding":{}},
{"data":{"values":[
{"type":"Feature","properties":{"bar":"ne"},"geometry":{"type":"MultiLineString","coordinates":[[[46,110],[57,110]],[[46,123],[57,123]],[[46,133],[57,133]],[[46,159],[57,159]],[[46,186],[57,186]],[[46,211],[57,211]],[[46,236],[57,236]],[[46,249],[57,249]],[[46,251],[57,251]],[[46,253],[57,253]]]}},
{"type":"Feature","properties":{"bar":"co"},"geometry":{"type":"MultiLineString","coordinates":[[[731,102.7],[743.3,102.7]],[[731,146],[743.3,146]],[[731,174.3],[743.3,174.3]],[[731,212],[743.3,212]],[[731,241.7],[743.3,241.7]],[[731,252.7],[743.3,252.7]],[[731,253.3],[743.3,253.3]]]}},
{"type":"Feature","properties":{"bar":"phi"},"geometry":{"type":"MultiLineString","coordinates":[[[46,422.3],[60,422.3]],[[46,501],[60,501]]]}},
{"type":"Feature","properties":{"bar":"e"},"geometry":{"type":"MultiLineString","coordinates":[[[735.7,370.7],[745,370.7]],[[735.7,390],[745,390]],[[735.7,455],[745,455]],[[735.7,493.3],[745,493.3]],[[735.7,515],[745,515]],[[735.7,552.3],[745,552.3]]]}}
]},
"mark":{"type":"geoshape","filled":false,"stroke":"#999999","strokeWidth":0.7},"encoding":{}},
{"data":{"values":[{"type":"Feature","properties":{"name":"box"},"geometry":{"type":"LineString","coordinates":[[24.5,15],[425.7,15],[425.7,303.3],[24.5,303.3],[24.5,15]]}}]},
"mark":{"type":"geoshape","filled":false,"stroke":"#d9303c","strokeWidth":1.1,"strokeDash":[4,3]},"encoding":{}},
{"data":{"values":[{"type":"Feature","properties":{"name":"underline"},"geometry":{"type":"LineString","coordinates":[[36.7,49.3],[346,49.3]]}}]},
"mark":{"type":"geoshape","filled":false,"stroke":"#111111","strokeWidth":1.4},"encoding":{}},
{"data":{"values":[{"label":"MD current decaying phase","x":36.5,"y":36}]},
"mark":{"type":"text","font":"Liberation Sans","fontSize":25.3,"align":"left","baseline":"middle","color":"#111111"},
"encoding":{"longitude":{"field":"x","type":"quantitative"},"latitude":{"field":"y","type":"quantitative"},"text":{"field":"label"}}},
{"data":{"values":[
{"label":"Time: 303.02 µs","x":271.7,"y":71.7},
{"label":"Time: 335.16 µs","x":572,"y":72.7},
{"label":"Time: 335.16 µs","x":266.7,"y":339},
{"label":"Time: 335.16 µs","x":570.7,"y":362.7}]},
"mark":{"type":"text","font":"Liberation Sans","fontSize":23,"align":"center","baseline":"middle","color":"#222222"},
"encoding":{"longitude":{"field":"x","type":"quantitative"},"latitude":{"field":"y","type":"quantitative"},"text":{"field":"label"}}},
{"data":{"values":[
{"label":"1.2e+20","x":65,"y":84},{"label":"1e+19","x":65,"y":111.7},{"label":"1e+18","x":65,"y":137.3},{"label":"1e+17","x":65,"y":162.7},{"label":"1e+16","x":65,"y":188.3},{"label":"1e+15","x":65,"y":214},{"label":"1e+14","x":65,"y":240},{"label":"1.0e+13","x":65,"y":265},
{"label":"8.7e+21","x":748.3,"y":86.7},{"label":"1e+21","x":748.3,"y":117.3},{"label":"1e+20","x":748.3,"y":150},{"label":"1e+19","x":748.3,"y":183.3},{"label":"1e+18","x":748.3,"y":215.7},{"label":"1e+17","x":748.3,"y":249.3},{"label":"2.9e+16","x":748.3,"y":267.3},
{"label":"2.9e+02","x":749.3,"y":370},{"label":"200","x":749.3,"y":389.3},{"label":"100","x":751,"y":426.7},{"label":"50","x":749.3,"y":464},{"label":"20","x":749.3,"y":513.3},{"label":"1.0e+01","x":751,"y":550.7}]},
"mark":{"type":"text","font":"Liberation Sans","fontSize":16,"align":"left","baseline":"middle","color":"#222222"},
"encoding":{"longitude":{"field":"x","type":"quantitative"},"latitude":{"field":"y","type":"quantitative"},"text":{"field":"label"}}},
{"data":{"values":[
{"label":"-1.6e+02","x":65,"y":379},{"label":"-2000","x":65,"y":407.3},{"label":"-3000","x":65,"y":422.3},{"label":"-4000","x":65,"y":437.7},{"label":"-5000","x":65,"y":453.3},{"label":"-6000","x":65,"y":469},{"label":"-7000","x":65,"y":484.3},{"label":"-8000","x":65,"y":499.7},{"label":"-9000","x":65,"y":515},{"label":"-10000","x":65,"y":530.7},{"label":"-1.2e+04","x":65,"y":559.3}]},
"mark":{"type":"text","font":"Liberation Sans","fontSize":15.3,"align":"left","baseline":"middle","color":"#222222"},
"encoding":{"longitude":{"field":"x","type":"quantitative"},"latitude":{"field":"y","type":"quantitative"},"text":{"field":"label"}}},
{"data":{"values":[{"label":"n","x":269,"y":296.7},{"label":"CO","x":575,"y":299}]},
"mark":{"type":"text","font":"Liberation Sans","fontWeight":"bold","fontSize":31,"align":"center","baseline":"alphabetic","color":"#000000"},
"encoding":{"longitude":{"field":"x","type":"quantitative"},"latitude":{"field":"y","type":"quantitative"},"text":{"field":"label"}}},
{"data":{"values":[{"label":"e","x":284,"y":299.5}]},
"mark":{"type":"text","font":"Liberation Sans","fontWeight":"bold","fontSize":21,"align":"center","baseline":"alphabetic","color":"#000000"},
"encoding":{"longitude":{"field":"x","type":"quantitative"},"latitude":{"field":"y","type":"quantitative"},"text":{"field":"label"}}},
{"data":{"values":[{"label":"Φ","x":272.7,"y":595}]},
"mark":{"type":"text","font":"Liberation Sans","fontWeight":"bold","fontSize":33,"align":"center","baseline":"middle","color":"#000000"},
"encoding":{"longitude":{"field":"x","type":"quantitative"},"latitude":{"field":"y","type":"quantitative"},"text":{"field":"label"}}},
{"data":{"values":[{"label":"|E|/N","x":567.5,"y":596}]},
"mark":{"type":"text","font":"Liberation Serif","fontWeight":"bold","fontSize":30,"align":"center","baseline":"alphabetic","color":"#000000"},
"encoding":{"longitude":{"field":"x","type":"quantitative"},"latitude":{"field":"y","type":"quantitative"},"text":{"field":"label"}}},
{"data":{"values":[{"label":"→","x":552.5,"y":570}]},
"mark":{"type":"text","font":"DejaVu Sans","fontWeight":"bold","fontSize":17,"align":"center","baseline":"middle","color":"#000000"},
"encoding":{"longitude":{"field":"x","type":"quantitative"},"latitude":{"field":"y","type":"quantitative"},"text":{"field":"label"}}}
]
}
